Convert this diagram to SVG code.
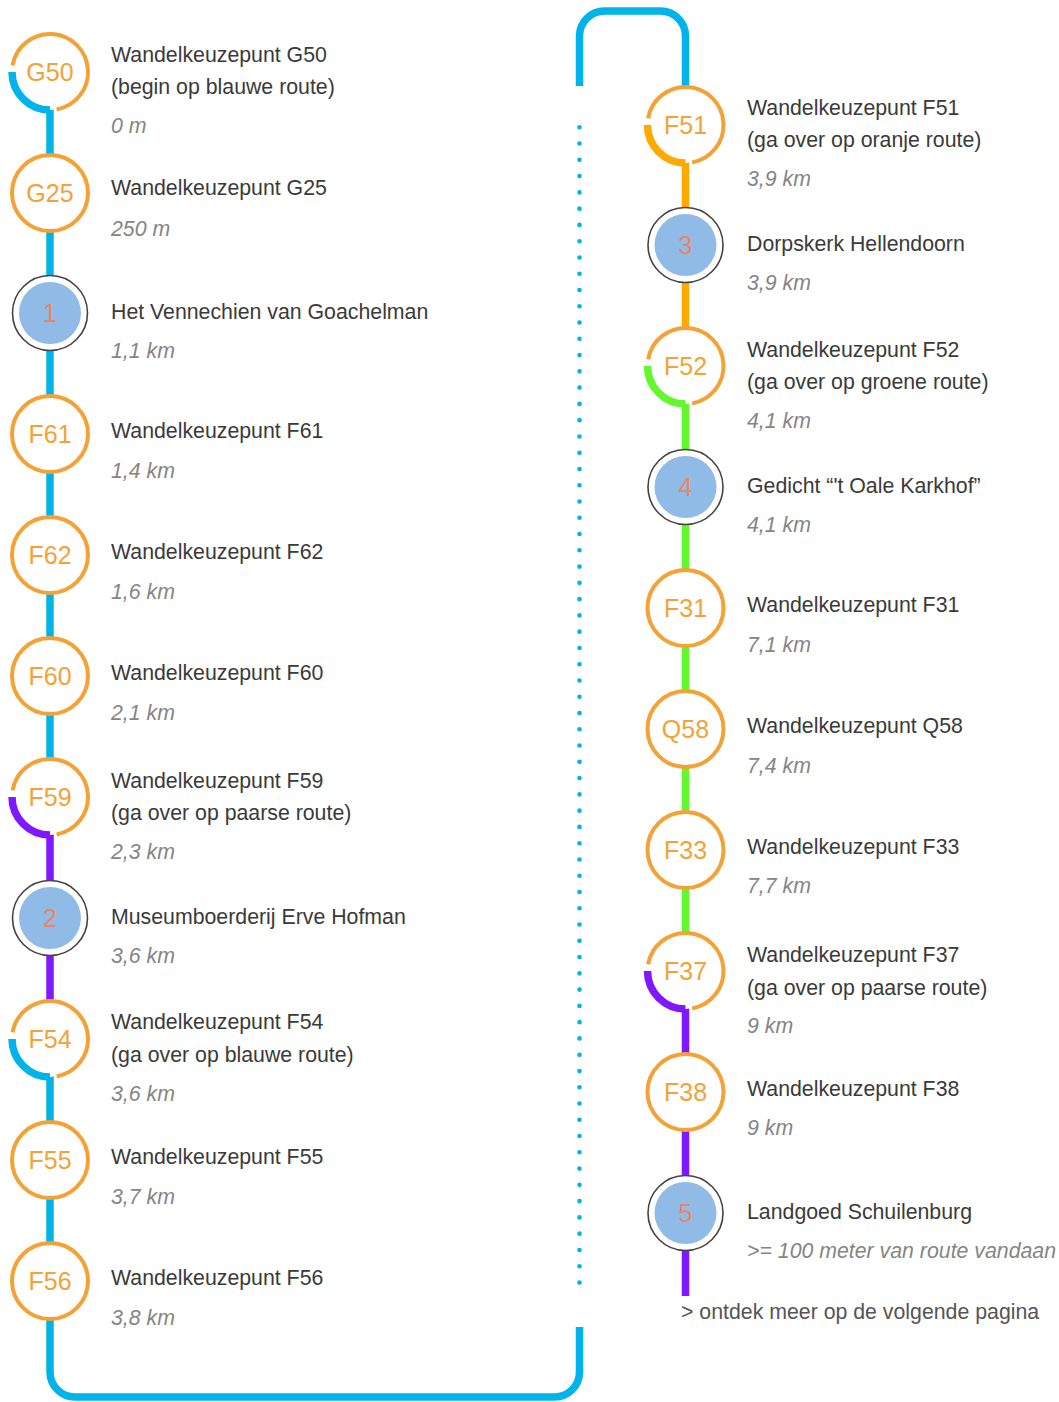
<svg xmlns="http://www.w3.org/2000/svg" width="1059" height="1402" viewBox="0 0 1059 1402">
<style>
text{font-family:"Liberation Sans",Arial,sans-serif}
.t{font-size:21.3px;fill:#3a3a3a}
.d{font-size:21.3px;fill:#858585;font-style:italic}
.lbl{font-size:25px;fill:#F4A236;text-anchor:middle}
.num{font-size:25px;fill:#EE8462;text-anchor:middle}
.ring{fill:none;stroke:#F4A236;stroke-width:4}
.bg{fill:#fff}
.poi{fill:#fff;stroke:#444;stroke-width:1.6}
.poif{fill:#90BBE6}
.r{fill:none;stroke-width:7.5;stroke-linecap:butt}
.blue{stroke:#00B4EB}
.pur{stroke:#7F17FF}
.org{stroke:#FFAA00}
.grn{stroke:#62F72E}
.dot{fill:none;stroke:#00B4EB;stroke-width:4.6;stroke-linecap:round;stroke-dasharray:0 16.27}
.foot{font-size:21.3px;fill:#555}
</style>
<g id="connectors">
<path class="r blue" d="M50 72 V797"/>
<path class="r pur" d="M50 797 V1039"/>
<path class="r blue" d="M50 1039 V1372 A25 25 0 0 0 75 1397 H554.5 A25 25 0 0 0 579.5 1372 V1327"/>
<path class="dot" d="M579.5 127.3 V1282.5"/>
<path class="r blue" d="M579.5 86 V36 A25 25 0 0 1 604.5 11 H660.5 A25 25 0 0 1 685.5 36 V125"/>
<path class="r org" d="M685.5 125 V366"/>
<path class="r grn" d="M685.5 366 V971"/>
<path class="r pur" d="M685.5 971 V1296"/>
</g>
<g id="G50">
<circle class="bg" cx="50" cy="72" r="38"/>
<path class="ring" d="M12.58 65.4 A38 38 0 1 1 56.6 109.42"/>
<path class="r blue" d="M12 72 A38 38 0 0 0 50 110"/>
<text class="lbl" x="50" y="81">G50</text>
<text class="t" x="111" y="62">Wandelkeuzepunt G50</text>
<text class="t" x="111" y="94">(begin op blauwe route)</text>
<text class="d" x="111" y="133">0 m</text>
</g>
<g id="G25">
<circle class="bg" cx="50" cy="193" r="38"/>
<circle class="ring" cx="50" cy="193" r="38"/>
<text class="lbl" x="50" y="202">G25</text>
<text class="t" x="111" y="195">Wandelkeuzepunt G25</text>
<text class="d" x="111" y="236">250 m</text>
</g>
<g id="P1">
<circle class="poi" cx="50" cy="313" r="37.5"/>
<circle class="poif" cx="50" cy="313" r="31"/>
<text class="num" x="50" y="322">1</text>
<text class="t" x="111" y="319">Het Vennechien van Goachelman</text>
<text class="d" x="111" y="358">1,1 km</text>
</g>
<g id="F61">
<circle class="bg" cx="50" cy="434" r="38"/>
<circle class="ring" cx="50" cy="434" r="38"/>
<text class="lbl" x="50" y="443">F61</text>
<text class="t" x="111" y="438">Wandelkeuzepunt F61</text>
<text class="d" x="111" y="478">1,4 km</text>
</g>
<g id="F62">
<circle class="bg" cx="50" cy="555" r="38"/>
<circle class="ring" cx="50" cy="555" r="38"/>
<text class="lbl" x="50" y="564">F62</text>
<text class="t" x="111" y="559">Wandelkeuzepunt F62</text>
<text class="d" x="111" y="599">1,6 km</text>
</g>
<g id="F60">
<circle class="bg" cx="50" cy="676" r="38"/>
<circle class="ring" cx="50" cy="676" r="38"/>
<text class="lbl" x="50" y="685">F60</text>
<text class="t" x="111" y="680">Wandelkeuzepunt F60</text>
<text class="d" x="111" y="720">2,1 km</text>
</g>
<g id="F59">
<circle class="bg" cx="50" cy="797" r="38"/>
<path class="ring" d="M12.58 790.4 A38 38 0 1 1 56.6 834.42"/>
<path class="r pur" d="M12 797 A38 38 0 0 0 50 835"/>
<text class="lbl" x="50" y="806">F59</text>
<text class="t" x="111" y="788">Wandelkeuzepunt F59</text>
<text class="t" x="111" y="820">(ga over op paarse route)</text>
<text class="d" x="111" y="859">2,3 km</text>
</g>
<g id="P2">
<circle class="poi" cx="50" cy="918" r="37.5"/>
<circle class="poif" cx="50" cy="918" r="31"/>
<text class="num" x="50" y="927">2</text>
<text class="t" x="111" y="924">Museumboerderij Erve Hofman</text>
<text class="d" x="111" y="963">3,6 km</text>
</g>
<g id="F54">
<circle class="bg" cx="50" cy="1039" r="38"/>
<path class="ring" d="M12.58 1032.4 A38 38 0 1 1 56.6 1076.42"/>
<path class="r blue" d="M12 1039 A38 38 0 0 0 50 1077"/>
<text class="lbl" x="50" y="1048">F54</text>
<text class="t" x="111" y="1029">Wandelkeuzepunt F54</text>
<text class="t" x="111" y="1062">(ga over op blauwe route)</text>
<text class="d" x="111" y="1101">3,6 km</text>
</g>
<g id="F55">
<circle class="bg" cx="50" cy="1160" r="38"/>
<circle class="ring" cx="50" cy="1160" r="38"/>
<text class="lbl" x="50" y="1169">F55</text>
<text class="t" x="111" y="1164">Wandelkeuzepunt F55</text>
<text class="d" x="111" y="1204">3,7 km</text>
</g>
<g id="F56">
<circle class="bg" cx="50" cy="1281" r="38"/>
<circle class="ring" cx="50" cy="1281" r="38"/>
<text class="lbl" x="50" y="1290">F56</text>
<text class="t" x="111" y="1285">Wandelkeuzepunt F56</text>
<text class="d" x="111" y="1325">3,8 km</text>
</g>
<g id="F51">
<circle class="bg" cx="685.5" cy="125" r="38"/>
<path class="ring" d="M648.08 118.4 A38 38 0 1 1 692.1 162.42"/>
<path class="r org" d="M647.5 125 A38 38 0 0 0 685.5 163"/>
<text class="lbl" x="685.5" y="134">F51</text>
<text class="t" x="747" y="115">Wandelkeuzepunt F51</text>
<text class="t" x="747" y="147">(ga over op oranje route)</text>
<text class="d" x="747" y="186">3,9 km</text>
</g>
<g id="P3">
<circle class="poi" cx="685.5" cy="245" r="37.5"/>
<circle class="poif" cx="685.5" cy="245" r="31"/>
<text class="num" x="685.5" y="254">3</text>
<text class="t" x="747" y="251">Dorpskerk Hellendoorn</text>
<text class="d" x="747" y="290">3,9 km</text>
</g>
<g id="F52">
<circle class="bg" cx="685.5" cy="366" r="38"/>
<path class="ring" d="M648.08 359.4 A38 38 0 1 1 692.1 403.42"/>
<path class="r grn" d="M647.5 366 A38 38 0 0 0 685.5 404"/>
<text class="lbl" x="685.5" y="375">F52</text>
<text class="t" x="747" y="357">Wandelkeuzepunt F52</text>
<text class="t" x="747" y="389">(ga over op groene route)</text>
<text class="d" x="747" y="428">4,1 km</text>
</g>
<g id="P4">
<circle class="poi" cx="685.5" cy="487" r="37.5"/>
<circle class="poif" cx="685.5" cy="487" r="31"/>
<text class="num" x="685.5" y="496">4</text>
<text class="t" x="747" y="493">Gedicht “'t Oale Karkhof”</text>
<text class="d" x="747" y="532">4,1 km</text>
</g>
<g id="F31">
<circle class="bg" cx="685.5" cy="608" r="38"/>
<circle class="ring" cx="685.5" cy="608" r="38"/>
<text class="lbl" x="685.5" y="617">F31</text>
<text class="t" x="747" y="612">Wandelkeuzepunt F31</text>
<text class="d" x="747" y="652">7,1 km</text>
</g>
<g id="Q58">
<circle class="bg" cx="685.5" cy="729" r="38"/>
<circle class="ring" cx="685.5" cy="729" r="38"/>
<text class="lbl" x="685.5" y="738">Q58</text>
<text class="t" x="747" y="733">Wandelkeuzepunt Q58</text>
<text class="d" x="747" y="773">7,4 km</text>
</g>
<g id="F33">
<circle class="bg" cx="685.5" cy="850" r="38"/>
<circle class="ring" cx="685.5" cy="850" r="38"/>
<text class="lbl" x="685.5" y="859">F33</text>
<text class="t" x="747" y="854">Wandelkeuzepunt F33</text>
<text class="d" x="747" y="893">7,7 km</text>
</g>
<g id="F37">
<circle class="bg" cx="685.5" cy="971" r="38"/>
<path class="ring" d="M648.08 964.4 A38 38 0 1 1 692.1 1008.42"/>
<path class="r pur" d="M647.5 971 A38 38 0 0 0 685.5 1009"/>
<text class="lbl" x="685.5" y="980">F37</text>
<text class="t" x="747" y="962">Wandelkeuzepunt F37</text>
<text class="t" x="747" y="995">(ga over op paarse route)</text>
<text class="d" x="747" y="1033">9 km</text>
</g>
<g id="F38">
<circle class="bg" cx="685.5" cy="1092" r="38"/>
<circle class="ring" cx="685.5" cy="1092" r="38"/>
<text class="lbl" x="685.5" y="1101">F38</text>
<text class="t" x="747" y="1096">Wandelkeuzepunt F38</text>
<text class="d" x="747" y="1135">9 km</text>
</g>
<g id="P5">
<circle class="poi" cx="685.5" cy="1213" r="37.5"/>
<circle class="poif" cx="685.5" cy="1213" r="31"/>
<text class="num" x="685.5" y="1222">5</text>
<text class="t" x="747" y="1219">Landgoed Schuilenburg</text>
<text class="d" x="747" y="1258">&gt;= 100 meter van route vandaan</text>
</g>
<g id="footer">
<text class="foot" x="681" y="1319">&gt; ontdek meer op de volgende pagina</text>
</g>
</svg>
